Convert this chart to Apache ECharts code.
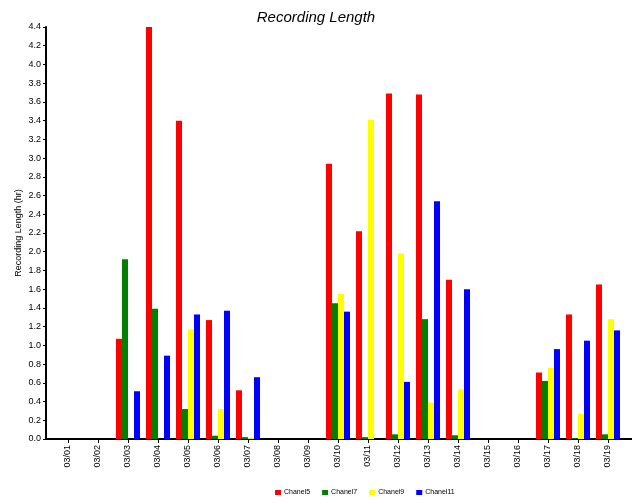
<!DOCTYPE html>
<html><head><meta charset="utf-8">
<script src="https://cdn.jsdelivr.net/npm/echarts@6/dist/echarts.min.js"></script>
<style>html,body{margin:0;padding:0;background:#fff}#c{width:632px;height:504px}</style>
</head><body><div id="c"></div>
<script>
const categories = ['03/01','03/02','03/03','03/04','03/05','03/06','03/07','03/08','03/09','03/10','03/11','03/12','03/13','03/14','03/15','03/16','03/17','03/18','03/19'];
const chanel5  = [0,0,1.07,4.40,3.40,1.27,0.52,0,0,2.94,2.22,3.69,3.68,1.70,0,0,0.71,1.33,1.65];
const chanel7  = [0,0,1.92,1.39,0.32,0.035,0.02,0,0,1.45,0.02,0.05,1.28,0.04,0,0,0.62,0.01,0.05];
const chanel9  = [0,0,0,0,1.17,0.32,0.01,0,0,1.55,3.41,1.98,0.39,0.53,0,0,0.76,0.27,1.28];
const chanel11 = [0,0,0.51,0.89,1.33,1.37,0.66,0,0,1.36,0,0.61,2.54,1.60,0,0,0.96,1.05,1.16];
const seriesNames = ['Chanel5','Chanel7','Chanel9','Chanel11'];
const colors = ['#ff0000','#008000','#ffff00','#0000ff'];
const font = 'Liberation Sans, Arial, sans-serif';

const chart = echarts.init(document.getElementById('c'));
const gridTop = 27, gridBottom = 65;
chart.setOption({
  animation: false,
  textStyle: {fontFamily: font},
  title: {text: 'Recording Length', left: 'center', top: 5,
    textStyle: {fontSize: 15, fontWeight: 'normal', fontStyle: 'italic', color: '#000', fontFamily: font}},
  legend: {bottom: 3, left: 270, itemWidth: 6, itemHeight: 5, itemGap: 12,
    textStyle: {fontSize: 7, color: '#000', padding: [0,0,0,-2]}, icon: 'rect', data: seriesNames},
  grid: [
    {left: 53, right: 9, top: gridTop, bottom: gridBottom},
    {left: 46, right: 0, top: gridTop, bottom: gridBottom}
  ],
  xAxis: [
    {type: 'category', gridIndex: 0, data: categories, boundaryGap: true,
     axisLine: {show: false},
     axisTick: {show: true, alignWithLabel: true, length: 4, lineStyle: {color: '#000'}},
     axisLabel: {rotate: 90, fontSize: 9, color: '#000', margin: 6, fontFamily: font},
     splitLine: {show: false}},
    {type: 'value', gridIndex: 1, min: 0, max: 1, show: true,
     axisLine: {show: true, lineStyle: {color: '#000', width: 2}},
     axisTick: {show: false}, axisLabel: {show: false}, splitLine: {show: false}}
  ],
  yAxis: [
    {type: 'value', gridIndex: 0, min: 0, max: 4.4, interval: 0.2, show: false, splitLine: {show: false}},
    {type: 'value', gridIndex: 1, min: 0, max: 4.4, interval: 0.2,
     name: 'Recording Length (hr)', nameLocation: 'middle', nameGap: 23, nameMoveOverlap: false,
     nameTextStyle: {fontSize: 9, color: '#000', fontFamily: font},
     axisLine: {show: true, lineStyle: {color: '#000', width: 2}},
     axisTick: {show: true, length: 3, lineStyle: {color: '#000'}},
     axisLabel: {fontSize: 9, color: '#000', margin: 5, fontFamily: font,
       formatter: v => v.toFixed(1)},
     splitLine: {show: false}}
  ],
  series: [chanel5, chanel7, chanel9, chanel11].map((d, i) => ({
    name: seriesNames[i], type: 'bar', xAxisIndex: 0, yAxisIndex: 0,
    data: d, barWidth: 6, barGap: '0%', itemStyle: {color: colors[i]}
  }))
});
</script></body></html>
